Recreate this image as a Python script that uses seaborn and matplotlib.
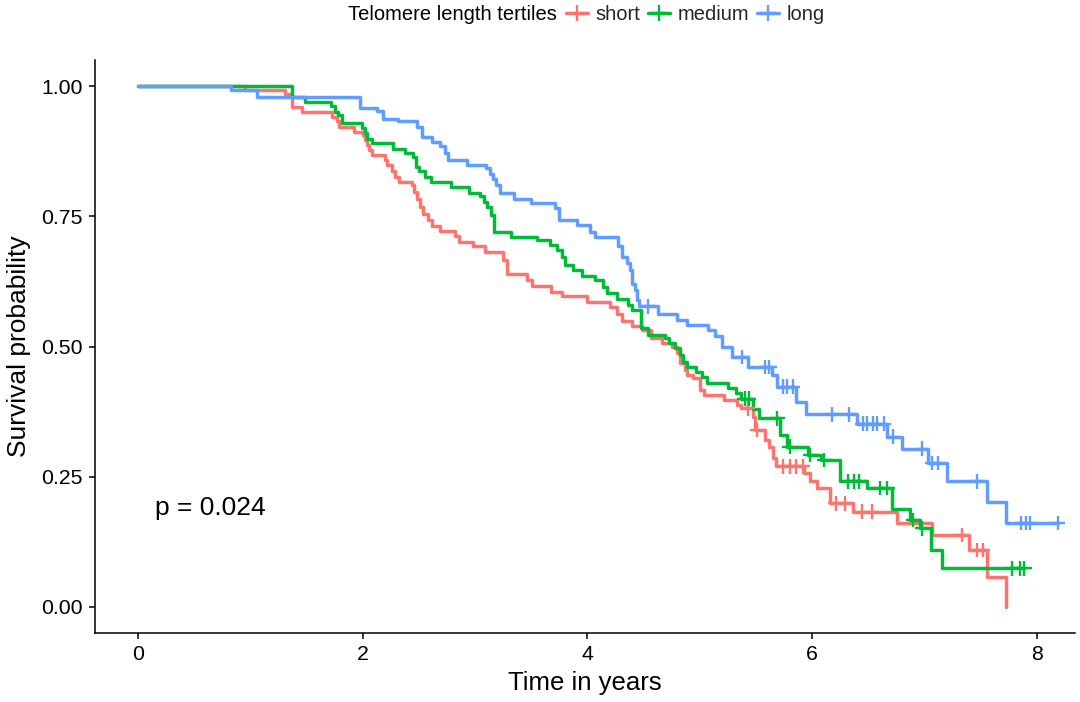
import numpy as np
import pandas as pd
import matplotlib
matplotlib.use("Agg")
import matplotlib.pyplot as plt
from matplotlib.lines import Line2D
import seaborn as sns

# ---------------- data ----------------
groups = ["short", "medium", "long"]
colors = ["#F8766D", "#00BA38", "#619CFF"]

short_t = [0, 0.95, 1.31, 1.37, 1.46, 1.73, 1.77, 1.79, 1.92, 2.00, 2.02, 2.04, 2.06, 2.08,
           2.20, 2.22, 2.26, 2.29, 2.32, 2.44, 2.46, 2.48, 2.51, 2.54, 2.58, 2.62, 2.69, 2.82,
           2.86, 2.98, 3.09, 3.25, 3.28, 3.46, 3.51, 3.68, 3.77, 4.00, 4.20, 4.26, 4.31, 4.40,
           4.49, 4.57, 4.66, 4.75, 4.80, 4.82, 4.87, 4.89, 4.94, 5.00, 5.04, 5.22, 5.33, 5.37,
           5.47, 5.49, 5.58, 5.62, 5.65, 5.68, 5.93, 5.98, 6.04, 6.16, 6.36, 6.76, 7.07,
           7.40, 7.56, 7.73]
short_s = [1.0, 0.992, 0.985, 0.960, 0.950, 0.941, 0.932, 0.922, 0.912, 0.906, 0.896, 0.887,
           0.877, 0.868, 0.858, 0.848, 0.836, 0.826, 0.816, 0.810, 0.797, 0.784, 0.768, 0.755,
           0.742, 0.731, 0.722, 0.713, 0.700, 0.692, 0.682, 0.666, 0.640, 0.627, 0.616, 0.605,
           0.596, 0.586, 0.576, 0.562, 0.548, 0.540, 0.532, 0.516, 0.506, 0.500, 0.487, 0.468,
           0.455, 0.445, 0.439, 0.416, 0.407, 0.397, 0.388, 0.381, 0.365, 0.340, 0.320, 0.308,
           0.285, 0.270, 0.258, 0.241, 0.228, 0.199, 0.183, 0.161, 0.138, 0.109, 0.058, 0.0]
short_cens = [5.43, 5.51, 5.74, 5.80, 5.86, 5.92, 6.21, 6.29, 6.44, 6.53, 7.33, 7.47, 7.52]

medium_t = [0, 1.37, 1.49, 1.72, 1.75, 1.78, 1.82, 1.99, 2.02, 2.04, 2.08, 2.27, 2.38, 2.45,
            2.47, 2.50, 2.55, 2.61, 2.79, 2.95, 3.04, 3.08, 3.11, 3.14, 3.17, 3.32, 3.55, 3.67,
            3.73, 3.77, 3.80, 3.87, 3.95, 4.07, 4.14, 4.17, 4.26, 4.36, 4.40, 4.48, 4.54, 4.69,
            4.73, 4.78, 4.82, 4.85, 4.89, 4.97, 5.02, 5.06, 5.25, 5.32, 5.37, 5.47, 5.53, 5.71,
            5.78, 5.96, 6.08, 6.25, 6.49, 6.71, 6.87, 6.96, 7.06, 7.16, 7.89]
medium_s = [1.0, 0.979, 0.970, 0.962, 0.951, 0.944, 0.930, 0.919, 0.909, 0.899, 0.890, 0.880,
            0.871, 0.863, 0.845, 0.836, 0.826, 0.816, 0.806, 0.795, 0.788, 0.778, 0.768, 0.752,
            0.720, 0.711, 0.704, 0.695, 0.685, 0.672, 0.656, 0.647, 0.635, 0.628, 0.615, 0.602,
            0.592, 0.580, 0.570, 0.535, 0.522, 0.516, 0.506, 0.497, 0.484, 0.471, 0.461, 0.452,
            0.442, 0.429, 0.420, 0.410, 0.400, 0.380, 0.362, 0.330, 0.308, 0.292, 0.282, 0.241,
            0.228, 0.189, 0.167, 0.151, 0.109, 0.074, 0.074]
medium_cens = [5.40, 5.44, 5.69, 5.80, 5.98, 6.11, 6.32, 6.37, 6.42, 6.60, 6.67, 6.90, 6.98,
               7.78, 7.85, 7.89]

long_t = [0, 0.83, 1.06, 1.98, 2.13, 2.18, 2.31, 2.48, 2.53, 2.62, 2.69, 2.73, 2.76, 2.93,
          3.10, 3.13, 3.16, 3.19, 3.22, 3.35, 3.50, 3.71, 3.75, 3.91, 4.02, 4.07, 4.27, 4.31,
          4.35, 4.38, 4.40, 4.42, 4.44, 4.46, 4.63, 4.80, 4.89, 5.07, 5.14, 5.20, 5.29, 5.43,
          5.64, 5.69, 5.86, 5.95, 6.40, 6.67, 6.80, 7.03, 7.20, 7.56, 7.73, 8.19]
long_s = [1.0, 0.992, 0.979, 0.958, 0.952, 0.937, 0.932, 0.922, 0.903, 0.893, 0.884, 0.871,
          0.858, 0.848, 0.842, 0.832, 0.822, 0.810, 0.794, 0.784, 0.775, 0.765, 0.743, 0.733,
          0.720, 0.711, 0.692, 0.672, 0.660, 0.646, 0.620, 0.608, 0.590, 0.577, 0.563, 0.551,
          0.541, 0.532, 0.520, 0.500, 0.480, 0.461, 0.445, 0.423, 0.394, 0.370, 0.352, 0.327,
          0.304, 0.276, 0.241, 0.202, 0.161, 0.161]
long_cens = [4.54, 5.38, 5.58, 5.62, 5.74, 5.78, 5.83, 6.18, 6.33, 6.45, 6.49, 6.54, 6.58,
             6.64, 6.72, 6.98, 7.07, 7.12, 7.47, 7.86, 7.90, 7.94, 8.19]

y_ticks = [0.00, 0.25, 0.50, 0.75, 1.00]
x_ticks = [0, 2, 4, 6, 8]
p_text = "p = 0.024"
legend_title = "Telomere length tertiles"
x_label = "Time in years"
y_label = "Survival probability"

# ---------------- build frames ----------------
curve_t = {"short": short_t, "medium": medium_t, "long": long_t}
curve_s = {"short": short_s, "medium": medium_s, "long": long_s}
cens_t = {"short": short_cens, "medium": medium_cens, "long": long_cens}

curves = pd.concat([pd.DataFrame({"time": curve_t[g], "surv": curve_s[g], "group": g})
                    for g in groups], ignore_index=True)

cens_rows = []
for g in groups:
    t_arr = np.asarray(curve_t[g])
    s_arr = np.asarray(curve_s[g])
    for tc in cens_t[g]:
        idx = np.searchsorted(t_arr, tc, side="right") - 1
        cens_rows.append({"time": tc, "surv": s_arr[idx], "group": g})
cens = pd.DataFrame(cens_rows)

# ---------------- plot ----------------
sns.set_theme(style="white")
plt.rcParams["font.family"] = ["Liberation Sans", "DejaVu Sans"]

fig = plt.figure(figsize=(10.8, 7.02), dpi=100)
ax = fig.add_axes([95 / 1080, 1 - 633 / 702, (1075 - 95) / 1080, (633 - 60) / 702])

palette = dict(zip(groups, colors))
sns.lineplot(data=curves, x="time", y="surv", hue="group", palette=palette,
             estimator=None, sort=False, drawstyle="steps-post", linewidth=2.5,
             legend=False, ax=ax)
sns.scatterplot(data=cens, x="time", y="surv", hue="group", palette=palette,
                marker="+", s=110, linewidth=1.7, legend=False, ax=ax, zorder=3)

ax.set_xlim(-0.383, 8.34)
ax.set_ylim(-0.05, 1.05)
ax.set_xticks(x_ticks)
ax.set_xticklabels([str(v) for v in x_ticks])
ax.set_yticks(y_ticks)
ax.set_yticklabels([f"{v:.2f}" for v in y_ticks])
ax.tick_params(axis="both", labelsize=15.3, colors="black", length=4, width=1.1,
               direction="out", pad=5)
ax.tick_params(left=True, bottom=True)
for side in ["top", "right"]:
    ax.spines[side].set_visible(False)
for side in ["left", "bottom"]:
    ax.spines[side].set_color("black")
    ax.spines[side].set_linewidth(1.1)

ax.set_xlabel(x_label, fontsize=18.5, color="black", labelpad=5)
ax.set_ylabel(y_label, fontsize=19, color="black", labelpad=7)
ax.text(0.15, 0.19, p_text, fontsize=19, color="black", ha="left", va="center")

handles = [Line2D([0], [0], color=c, lw=2.5, marker="+", markersize=11, mew=1.7)
           for c in colors]
fig.text(557 / 1080, 1 - 15 / 702, legend_title, ha="right", va="center",
         fontsize=14.5, color="black")
fig.legend(handles, groups, loc="center left", bbox_to_anchor=(566 / 1080, 1 - 15 / 702),
           ncol=3, frameon=False, fontsize=14.5, handlelength=1.1, handletextpad=0.35,
           columnspacing=0.4, borderpad=0, borderaxespad=0)

fig.savefig("out.png", dpi=100)
